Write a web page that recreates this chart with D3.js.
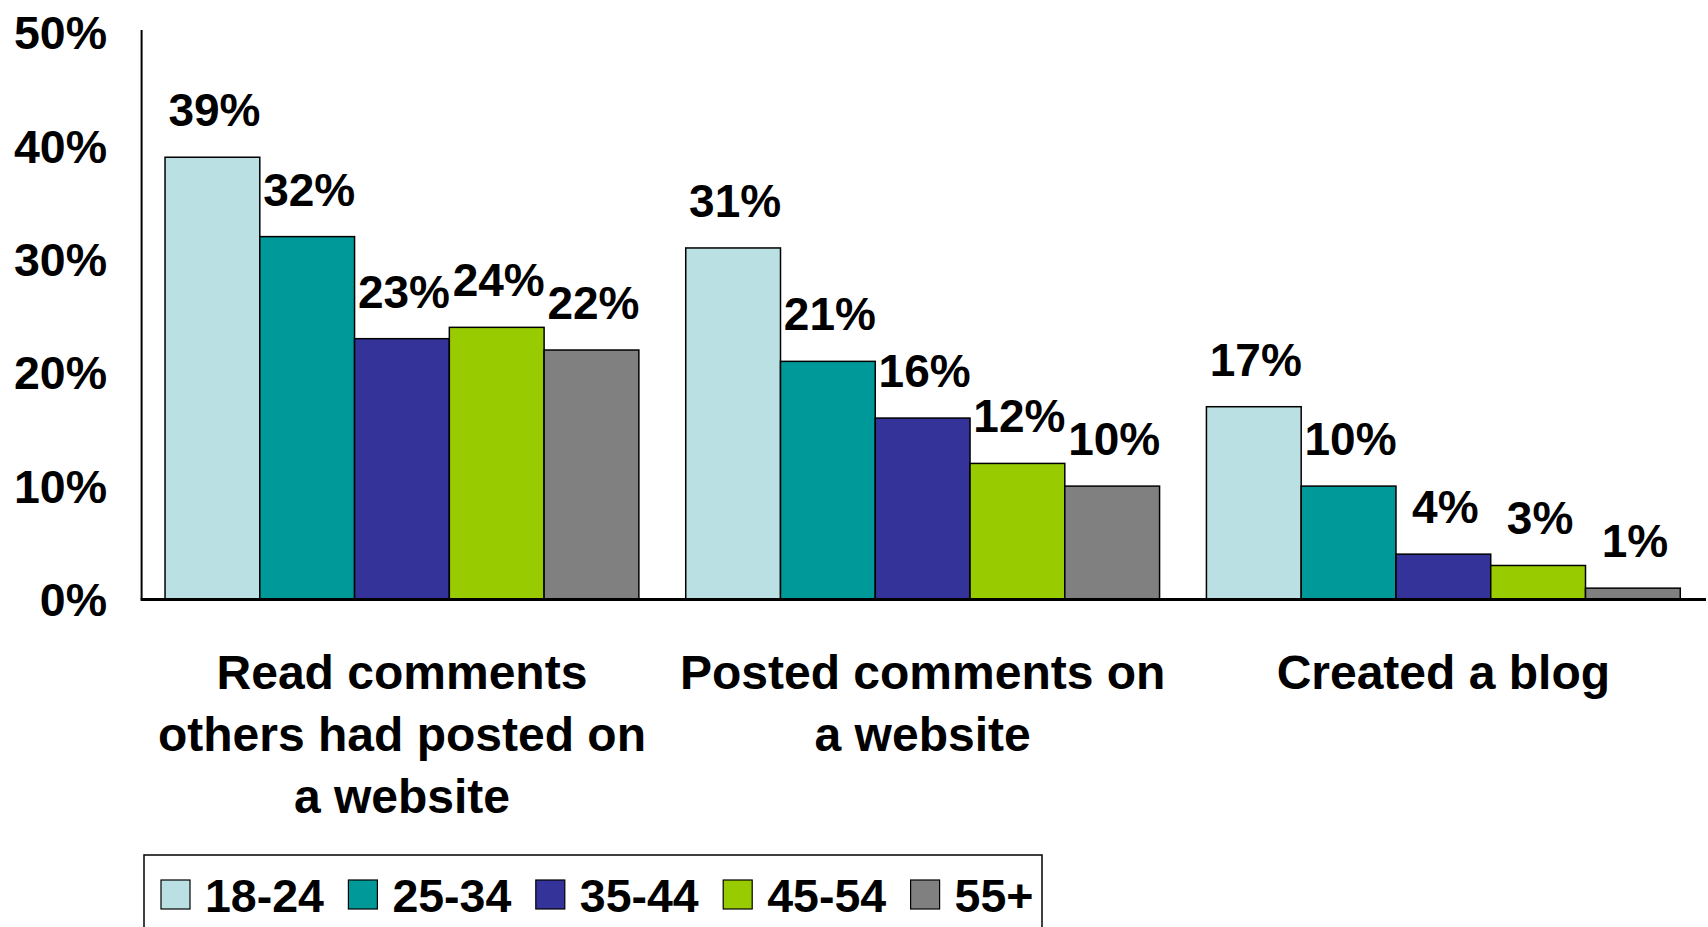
<!DOCTYPE html>
<html>
<head>
<meta charset="utf-8">
<script src="https://cdn.jsdelivr.net/npm/d3@7"></script>
<style>
  html, body { margin: 0; padding: 0; background: #fff; }
  svg { display: block; }
  text { font-family: "Liberation Sans", Arial, sans-serif; font-weight: bold; fill: #000; }
</style>
</head>
<body>
<svg id="chart" width="1708" height="927"></svg>
<script>
const categories = [
  ["Read comments", "others had posted on", "a website"],
  ["Posted comments on", "a website"],
  ["Created a blog"]
];
const seriesNames = ["18-24", "25-34", "35-44", "45-54", "55+"];
const seriesColors = ["#BBE0E3", "#009999", "#333399", "#99CC00", "#808080"];
const values18_24 = [39, 31, 17];
const values25_34 = [32, 21, 10];
const values35_44 = [23, 16, 4];
const values45_54 = [24, 12, 3];
const values55plus = [22, 10, 1];
const yTicks = [0, 10, 20, 30, 40, 50];

const seriesValues = [values18_24, values25_34, values35_44, values45_54, values55plus];

const svg = d3.select("#chart");
const x0 = d3.scaleBand().domain(d3.range(categories.length)).range([141.6, 1703.7]).paddingInner(0.09).paddingOuter(0.045);
const x1 = d3.scaleBand().domain(d3.range(seriesNames.length)).range([0, x0.bandwidth()]).padding(0);
const y = d3.scaleLinear().domain([0, 50]).range([599.5, 32.5]);

// y tick labels
svg.append("g").selectAll("text").data(yTicks).join("text")
  .attr("x", 107).attr("y", d => y(d)).attr("dy", "0.36em")
  .attr("text-anchor", "end").style("font-size", "46.5px")
  .text(d => d + "%");

// bars
const groups = svg.append("g").selectAll("g").data(categories).join("g")
  .attr("transform", (d, i) => `translate(${x0(i)},0)`);

groups.each(function(cat, ci) {
  const g = d3.select(this);
  seriesNames.forEach((s, si) => {
    const v = seriesValues[si][ci];
    g.append("rect")
      .attr("x", x1(si)).attr("y", y(v))
      .attr("width", x1.bandwidth()).attr("height", y(0) - y(v))
      .attr("fill", seriesColors[si]).attr("stroke", "#000").attr("stroke-width", 1.5);
    g.append("text")
      .attr("x", x1(si) + x1.bandwidth() / 2 + 2).attr("y", y(v) - 31)
      .attr("text-anchor", "middle").style("font-size", "46px")
      .text(v + "%");
  });
  const t = g.append("text").attr("text-anchor", "middle").style("font-size", "48px");
  cat.forEach((line, li) => {
    t.append("tspan").attr("x", x0.bandwidth() / 2).attr("y", 689 + li * 62).text(line);
  });
});

// axes lines
svg.append("line").attr("x1", 141.6).attr("x2", 141.6).attr("y1", 30).attr("y2", y(0)).attr("stroke", "#000").attr("stroke-width", 2);
svg.append("line").attr("x1", 140.6).attr("x2", 1706).attr("y1", y(0)).attr("y2", y(0)).attr("stroke", "#000").attr("stroke-width", 3);

// legend
const lg = svg.append("g");
lg.append("rect").attr("x", 144).attr("y", 855).attr("width", 898).attr("height", 90)
  .attr("fill", "#fff").attr("stroke", "#000").attr("stroke-width", 1.5);
const items = lg.selectAll("g.item").data(seriesNames).join("g").attr("class", "item")
  .attr("transform", (d, i) => `translate(${161 + i * 187.4},0)`);
items.append("rect").attr("x", 0).attr("y", 880).attr("width", 29).attr("height", 29)
  .attr("fill", (d, i) => seriesColors[i]).attr("stroke", "#000").attr("stroke-width", 1.2);
items.append("text").attr("x", 44).attr("y", 895).attr("dy", "0.36em")
  .style("font-size", "46.5px").text(d => d);
</script>
</body>
</html>
